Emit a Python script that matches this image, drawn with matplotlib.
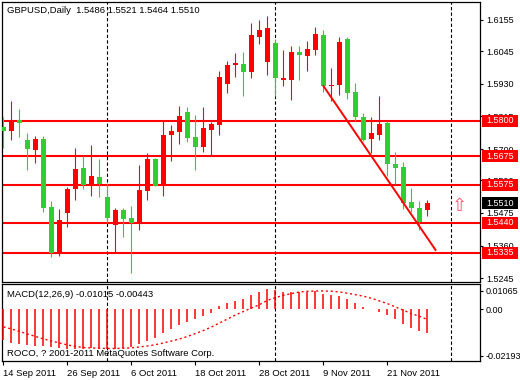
import matplotlib
matplotlib.use('Agg')
import matplotlib.pyplot as plt
import matplotlib.transforms as mtransforms
from matplotlib.patches import Rectangle
import numpy as np

plt.rcParams['font.family'] = ['Liberation Sans', 'DejaVu Sans']

# GBPUSD daily bars, 14 Sep 2011 .. 28 Nov 2011
opens = [1.5779, 1.5765, 1.5803, 1.5732, 1.5697, 1.5735, 1.5495, 1.5335, 1.5476, 1.5561,
         1.5633, 1.5572, 1.5601, 1.5530, 1.5434, 1.5485, 1.5457, 1.5441, 1.5553, 1.5666,
         1.5575, 1.5751, 1.5760, 1.5831, 1.5744, 1.5708, 1.5767, 1.5786, 1.5929, 1.5997,
         1.6000, 1.5972, 1.6096, 1.6007, 1.6075, 1.5943, 1.5943, 1.6042, 1.6028, 1.6049,
         1.6103, 1.5923, 1.5927, 1.6087, 1.5901, 1.5812, 1.5737, 1.5751, 1.5793, 1.5648,
         1.5638, 1.5514, 1.5493, 1.5486]
highs = [1.5814, 1.5871, 1.5842, 1.5758, 1.5746, 1.5746, 1.5516, 1.5488, 1.5568, 1.5704,
         1.5676, 1.5716, 1.5664, 1.5582, 1.5493, 1.5493, 1.5500, 1.5645, 1.5685, 1.5669,
         1.5798, 1.5786, 1.5852, 1.5849, 1.5821, 1.5849, 1.5795, 1.5976, 1.6011, 1.6040,
         1.6042, 1.6145, 1.6155, 1.6169, 1.6089, 1.6049, 1.6063, 1.6063, 1.6080, 1.6131,
         1.6120, 1.5986, 1.6096, 1.6096, 1.5934, 1.5828, 1.5814, 1.5887, 1.5800, 1.5690,
         1.5655, 1.5563, 1.5518, 1.5521]
lows = [1.5703, 1.5732, 1.5742, 1.5626, 1.5652, 1.5478, 1.5321, 1.5324, 1.5427, 1.5521,
        1.5558, 1.5535, 1.5530, 1.5441, 1.5338, 1.5389, 1.5265, 1.5415, 1.5521, 1.5570,
        1.5535, 1.5659, 1.5718, 1.5725, 1.5626, 1.5690, 1.5678, 1.5749, 1.5899, 1.5955,
        1.5887, 1.5950, 1.6070, 1.5962, 1.5887, 1.5922, 1.5873, 1.5943, 1.5976, 1.6032,
        1.5901, 1.5868, 1.5892, 1.5878, 1.5798, 1.5730, 1.5685, 1.5732, 1.5605, 1.5577,
        1.5490, 1.5478, 1.5415, 1.5464]
closes = [1.5765, 1.5800, 1.5791, 1.5701, 1.5735, 1.5493, 1.5333, 1.5450, 1.5558, 1.5629,
          1.5572, 1.5605, 1.5577, 1.5457, 1.5485, 1.5455, 1.5439, 1.5556, 1.5666, 1.5570,
          1.5751, 1.5765, 1.5817, 1.5739, 1.5708, 1.5774, 1.5788, 1.5955, 1.5997, 1.6002,
          1.5972, 1.6103, 1.6120, 1.6127, 1.5950, 1.5950, 1.6042, 1.6032, 1.6052, 1.6105,
          1.5922, 1.5925, 1.6077, 1.5899, 1.5814, 1.5732, 1.5758, 1.5788, 1.5648, 1.5633,
          1.5509, 1.5493, 1.5443, 1.5510]

# MACD(12,26,9): main line (histogram) and signal (dotted)
macd = [-0.01316, -0.01430, -0.01485, -0.01515, -0.01545, -0.01570, -0.01600, -0.01642, -0.01672, -0.01672,
        -0.01672, -0.01655, -0.01642, -0.01672, -0.01672, -0.01663, -0.01612, -0.01473, -0.01346, -0.01206,
        -0.01028, -0.00851, -0.00669, -0.00529, -0.00406, -0.00288, -0.00150, 0.00135, 0.00250, 0.00347,
        0.00444, 0.00588, 0.00728, 0.00842, 0.00800, 0.00735, 0.00722, 0.00730, 0.00725, 0.00758,
        0.00656, 0.00588, 0.00559, 0.00444, 0.00275, 0.00093, -0.00010, -0.00118, -0.00258, -0.00402,
        -0.00614, -0.00783, -0.00935, -0.01015]
signal = [-0.00753, -0.00838, -0.00944, -0.01050, -0.01155, -0.01261, -0.01346, -0.01430, -0.01515, -0.01578,
          -0.01621, -0.01642, -0.01655, -0.01663, -0.01663, -0.01655, -0.01634, -0.01600, -0.01557, -0.01502,
          -0.01430, -0.01346, -0.01261, -0.01155, -0.01028, -0.00901, -0.00753, -0.00584, -0.00415, -0.00245,
          -0.00097, 0.00051, 0.00190, 0.00377, 0.00487, 0.00588, 0.00656, 0.00728, 0.00758, 0.00770,
          0.00770, 0.00758, 0.00728, 0.00673, 0.00614, 0.00546, 0.00461, 0.00347, 0.00233, 0.00093,
          -0.00047, -0.00190, -0.00300, -0.00443]

levels = [1.5800, 1.5675, 1.5575, 1.5440, 1.5335]
last_price = 1.5510
price_ticks = [1.6155, 1.6045, 1.5930, 1.5815, 1.5700, 1.5590, 1.5475, 1.5360, 1.5245]
trend_x = [40, 54]
trend_y = [1.5922, 1.5345]
separators = [13, 34, 56]
date_pos = [0, 8, 16, 24, 32, 40, 48]
date_labels = ['14 Sep 2011', '26 Sep 2011', '6 Oct 2011', '18 Oct 2011',
               '28 Oct 2011', '9 Nov 2011', '21 Nov 2011']
arrow_x, arrow_y = 57, 1.5500
macd_max, macd_min = 0.01065, -0.02193

RED = '#ff0000'
GREEN = '#32cd32'
FS = 6.8
FS_AX = 6.5
W, H = 520, 380

fig = plt.figure(figsize=(5.2, 3.8), dpi=100)
fig.patch.set_facecolor('white')


def fbox(x0, y0, x1, y1):
    # pixel box (top-left origin) -> figure fraction rect
    return [x0 / W, 1 - y1 / H, (x1 - x0) / W, (y1 - y0) / H]


ax = fig.add_axes(fbox(2.3, 2.3, 480.3, 282))
ax2 = fig.add_axes(fbox(2.3, 284, 480.3, 361))

x = np.arange(len(opens))
o = np.array(opens)
c = np.array(closes)
cols = [RED if cc > oo else GREEN for oo, cc in zip(o, c)]

# --- main chart ---
ax.set_xlim(-0.15, 59.6)
ax.set_ylim(1.52319, 1.62171)

for lvl in levels:
    ax.axhline(lvl, color=RED, lw=1.5, zorder=2)

for s in separators:
    ax.axvline(s, color='black', lw=0.8, ls=(0, (3, 2)), zorder=1)

ax.vlines(x, lows, highs, colors=cols, lw=0.8, zorder=3)
body_low = np.minimum(o, c)
body_h = np.maximum(np.abs(c - o), 0.0004)
ax.bar(x, body_h, bottom=body_low, width=0.625, color=cols, linewidth=0, zorder=3)

ax.plot(trend_x, trend_y, color=RED, lw=1.4, zorder=4)

ax.text(arrow_x, arrow_y, '\u21e7', color='#ff4d6d', fontsize=13, ha='center', va='center',
        family='DejaVu Sans', zorder=4)

ax.yaxis.tick_right()
ax.set_yticks(price_ticks)
ax.set_yticklabels([f'{v:.4f}' for v in price_ticks])
ax.tick_params(axis='y', length=2, pad=2.5, labelsize=FS_AX, width=0.8)
ax.set_xticks([])
for sp in ax.spines.values():
    sp.set_linewidth(0.9)

# price labels on the scale
box_tr = mtransforms.blended_transform_factory(ax.transAxes, ax.transData)
bw = 36 / 478.0
bh = 12 / 2839.0
for lvl, fc in [(v, RED) for v in levels] + [(last_price, 'black')]:
    ax.add_patch(Rectangle((1.0035, lvl - bh / 2), bw, bh, transform=box_tr,
                           facecolor=fc, edgecolor='none', clip_on=False, zorder=5))
    ax.text(1.0035 + bw / 2, lvl, f'{lvl:.4f}', transform=box_tr, color='white',
            fontsize=FS_AX, ha='center', va='center', clip_on=False, zorder=6)

fig.text(7 / W, 1 - 10.5 / H, 'GBPUSD,Daily  1.5486 1.5521 1.5464 1.5510',
         fontsize=FS, ha='left', va='center', color='black')

# --- MACD window ---
ax2.set_xlim(-0.15, 59.6)
ax2.set_ylim(macd_min, macd_max)
ax2.vlines(x, 0, macd, colors=RED, lw=1.1, zorder=3)
ax2.plot(x, signal, color=RED, lw=1.0, ls=(0, (1.5, 2)), zorder=3)
for s in separators:
    ax2.axvline(s, color='black', lw=0.8, ls=(0, (3, 2)), zorder=1)

ax2.yaxis.tick_right()
ax2.set_yticks([0.00783, 0.0, -0.01981])
ax2.set_yticklabels(['0.01065', '0.00', '-0.02193'])
ax2.tick_params(axis='y', length=2, pad=1.5, labelsize=FS_AX, width=0.8)
ax2.set_xticks(date_pos)
ax2.set_xticklabels(date_labels)
ax2.tick_params(axis='x', length=3, pad=2.5, labelsize=FS, width=0.8)
for lab in ax2.get_xticklabels():
    lab.set_ha('left')
for sp in ax2.spines.values():
    sp.set_linewidth(0.9)

fig.text(7 / W, 1 - 294.5 / H, 'MACD(12,26,9) -0.01015 -0.00443',
         fontsize=FS, ha='left', va='center', color='black')
fig.text(7 / W, 1 - 353.5 / H, 'ROCO, ? 2001-2011 MetaQuotes Software Corp.',
         fontsize=FS, ha='left', va='center', color='black')

fig.savefig('out.png', dpi=100)
